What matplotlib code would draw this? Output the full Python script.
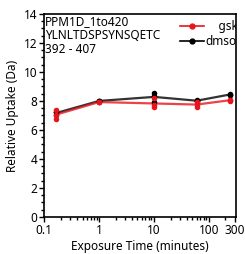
import matplotlib
matplotlib.use("Agg")
import matplotlib.pyplot as plt
import numpy as np
from matplotlib.ticker import LogLocator, FixedLocator, MultipleLocator, NullFormatter

plt.rcParams['font.family'] = ['Noto Sans', 'DejaVu Sans']

times = [0.167, 1, 10, 60, 240]
gsk_reps = [[7.40, 6.78, 7.00], [7.92, 7.95, 7.90], [8.20, 7.58, 7.70], [7.93, 7.60, 7.72], [8.05, 8.07, 8.03]]
dmso_reps = [[7.24, 7.00, 7.27], [8.00, 8.02, 7.98], [8.58, 7.93, 8.33], [8.05, 8.00, 8.00], [8.44, 8.44, 8.45]]
series_names = ["gsk", "dmso"]
info_lines = ["PPM1D_1to420", "YLNLTDSPSYNSQETC", "392 - 407"]
xticks = [0.1, 1, 10, 100, 300]
xticklabels = ["0.1", "1", "10", "100", "300"]

fig = plt.figure(figsize=(2.45, 2.54), dpi=100)
ax = fig.add_axes([0.180, 0.146, 0.783, 0.799])

red = "#e8141c"
for reps, name, col, z in [(dmso_reps, "dmso", "black", 2), (gsk_reps, "gsk", red, 3)]:
    means = [np.mean(r) for r in reps]
    ax.plot(times, means, color=col, lw=1.6, alpha=0.8, zorder=z)
    for t, r in zip(times, reps):
        ax.scatter([t] * len(r), r, color=col, s=16, zorder=z + 2, linewidths=0)

# legend handles
h_gsk, = ax.plot([], [], color=red, marker='o', ms=3.5, lw=1.2)
h_dmso, = ax.plot([], [], color='black', marker='o', ms=3.5, lw=1.2)
labels = ["    " + series_names[0], series_names[1]]
leg = ax.legend([h_gsk, h_dmso], labels, loc='upper right', frameon=False,
                fontsize=8.5, handlelength=2.0, handletextpad=0.15, borderaxespad=0.1,
                bbox_to_anchor=(1.04, 1.0), labelspacing=0.15)
for t in leg.get_texts():
    t.set_clip_on(True)
    t.set_clip_box(ax.bbox)

ax.text(0.005, 0.995, "\n".join(info_lines), transform=ax.transAxes, ha='left', va='top',
        fontsize=8.5, linespacing=1.1)

ax.set_xscale('log')
ax.set_xlim(0.1, 310)
ax.set_ylim(0, 14)
ax.xaxis.set_major_locator(FixedLocator(xticks))
ax.set_xticklabels(xticklabels)
ax.xaxis.set_minor_locator(LogLocator(base=10, subs=np.arange(2, 10)))
ax.xaxis.set_minor_formatter(NullFormatter())
ax.yaxis.set_major_locator(MultipleLocator(2))
ax.yaxis.set_minor_locator(MultipleLocator(0.5))
ax.tick_params(axis='both', which='major', labelsize=8.5, length=3.5, width=1, pad=1.5)
ax.tick_params(axis='both', which='minor', length=2, width=1)
for s in ax.spines.values():
    s.set_linewidth(1.2)

ax.set_xlabel("Exposure Time (minutes)", fontsize=8.5, labelpad=2)
ax.set_ylabel("Relative Uptake (Da)", fontsize=8.5, labelpad=3)

fig.savefig("out.png", dpi=100)
